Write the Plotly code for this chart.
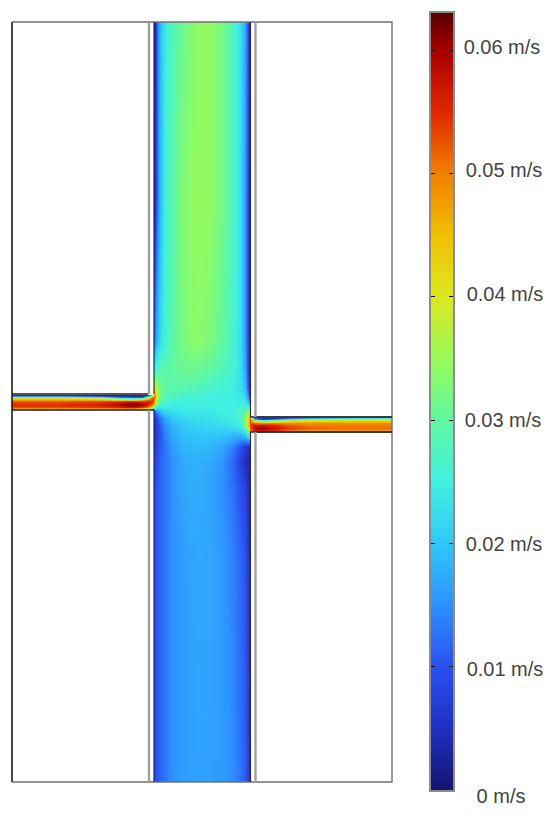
import plotly.graph_objects as go

# Velocity magnitude estimates, in mm/s.
# Geometry is expressed in the image's own coordinate system (pixels).
pipe_x = [154, 156, 158, 161, 165, 172, 182, 195, 208, 222, 232, 240, 245, 248, 250]
pipe_y = [22, 200, 340, 370, 388, 397, 404, 411, 418, 426, 434, 447, 462, 490, 560, 782]
pipe_speed = [
    [1, 8, 15, 20, 24, 28, 31, 34, 34.5, 32, 28, 23, 17, 9, 1],
    [2, 9, 15, 20, 25, 29, 33, 34.5, 34.5, 32, 28, 23, 16, 8, 1],
    [12, 17, 20, 23, 26, 29, 32, 34, 33, 30, 27, 23, 16, 8, 1],
    [26, 27, 28, 29, 29, 30, 31, 31, 30, 28, 26, 23, 17, 8, 2],
    [42, 38, 34, 31, 30, 29, 29, 28, 27, 26, 25, 23, 19, 10, 3],
    [52, 43, 36, 31, 28, 27, 26, 26, 25, 25, 25, 24, 22, 15, 6],
    [48, 36, 30, 27, 26, 25, 25, 25, 25, 25, 25, 25, 25, 22, 16],
    [10, 14, 17, 20, 22, 23, 24, 24, 24, 25, 25, 27, 29, 34, 40],
    [6, 8, 11, 14, 17, 20, 22, 23, 23, 24, 25, 27, 33, 42, 50],
    [5, 7, 9, 12, 15, 18, 20, 21, 22, 22, 23, 25, 31, 41, 52],
    [5, 7, 9, 11, 14, 17, 19, 20, 20, 20, 19, 19, 21, 26, 32],
    [7, 8, 10, 11, 13, 16, 18, 19, 18.5, 17, 14, 10, 7, 5, 3],
    [8, 9, 10, 12, 13, 15, 17, 18, 17.5, 15.5, 12, 8, 5, 4, 2],
    [9, 10, 11, 12, 13, 15, 17, 17.5, 17, 15, 13, 10, 8, 5, 2],
    [9, 10, 11, 12, 13, 15, 16, 17, 17, 16, 14, 12, 10, 7, 2],
    [8, 10, 11, 12, 13, 15, 16, 16.5, 16.5, 16, 15, 13, 11, 8, 2],
]

left_x = [12, 60, 100, 120, 132, 142, 148, 152, 154]
left_y = [395, 396, 397, 398, 399.5, 401, 403, 405, 407, 408.5, 410]
left_speed = [
    [5, 5, 4, 3, 3, 3, 8, 25, 48],
    [16, 16, 10, 6, 5, 5, 20, 40, 50],
    [30, 30, 24, 12, 10, 10, 32, 48, 52],
    [42, 42, 38, 28, 25, 28, 43, 52, 54],
    [48, 48, 47, 45, 43, 47, 52, 54, 54],
    [52, 52, 53, 54, 55, 54, 55, 55, 52],
    [54, 54, 55, 58, 61, 58, 56, 53, 45],
    [55, 55, 56, 59, 62, 59, 55, 50, 40],
    [53, 53, 54, 56, 58, 55, 50, 42, 25],
    [44, 44, 43, 44, 44, 38, 32, 22, 10],
    [32, 32, 30, 30, 28, 24, 16, 10, 5],
]

right_x = [250, 254, 262, 275, 290, 310, 340, 392]
right_y = [418, 419, 420, 421.5, 423, 425, 428, 430, 431, 432]
right_speed = [
    [50, 12, 4, 6, 12, 18, 22, 24],
    [52, 18, 8, 14, 24, 30, 34, 35],
    [52, 38, 25, 30, 38, 40, 41, 42],
    [52, 47, 42, 43, 45, 46, 46, 46],
    [53, 52, 50, 50, 49, 49, 49, 49],
    [53, 56, 57, 55, 52, 50, 50, 50],
    [52, 58, 60, 57, 54, 52, 51, 51],
    [50, 56, 58, 55, 51, 49, 49, 49],
    [44, 50, 52, 49, 45, 44, 44, 44],
    [30, 38, 42, 40, 36, 34, 33, 33],
]

scale_values = [0, 5, 10, 15, 20, 25, 30, 35, 40, 45, 50, 55, 60, 63]
scale_colors = ["#14146e", "#1f2fc0", "#2a50f0", "#2e90ff", "#30c8f8", "#40f0e0", "#60f8a0",
                "#98fa58", "#dce820", "#f0c000", "#f08000", "#e02800", "#a80000", "#580000"]
tick_values = [0, 10, 20, 30, 40, 50, 60]
tick_labels = ["0 m/s", "0.01 m/s", "0.02 m/s", "0.03 m/s", "0.04 m/s", "0.05 m/s", "0.06 m/s"]
label_x = [501, 505, 504, 503, 505, 504, 502]
label_y = [798, 671, 546, 422, 296, 172, 49]

frame_dark_x = [12, 12, None, 12, 148, None, 12, 154, None, 250, 392, None, 250, 392]
frame_dark_y = [22, 782, None, 394, 394, None, 410, 410, None, 417, 417, None, 432, 432]
frame_gray_x = [12, 392, 392, 12, None, 255, 392, None, 255, 392]
frame_gray_y = [22, 22, 782, 782, None, 417, 417, None, 432, 432]
wall_outer_x = [149, 149, None, 149, 149, None, 255.5, 255.5, None, 255.5, 255.5]
wall_outer_y = [22, 394, None, 410, 782, None, 22, 417, None, 432, 782]
wall_inner_x = [154, 154, None, 154, 154, None, 250.5, 250.5, None, 250.5, 250.5]
wall_inner_y = [22, 394, None, 410, 782, None, 22, 417, None, 432, 782]

ZMAX = 63
EPS = 0.01
colorscale = [[v / ZMAX, c] for v, c in zip(scale_values, scale_colors)]


def pad_axis(vals):
    """Plotly extends a smoothed heatmap half a cell past its outer samples; keep that cell tiny."""
    return [vals[0] - EPS] + list(vals) + [vals[-1] + EPS]


def pad_grid(rows):
    rows = [[r[0]] + list(r) + [r[-1]] for r in rows]
    return [rows[0]] + rows + [rows[-1]]


fig = go.Figure()
for xs, ys, zs in [(pipe_x, pipe_y, pipe_speed), (left_x, left_y, left_speed), (right_x, right_y, right_speed)]:
    fig.add_trace(go.Heatmap(x=pad_axis(xs), y=pad_axis(ys), z=pad_grid(zs), zmin=0, zmax=ZMAX,
                             colorscale=colorscale, zsmooth="best", showscale=False, hoverinfo="skip"))

for xs, ys, color, width in [
    (frame_gray_x, frame_gray_y, "#707070", 1.4),
    (frame_dark_x, frame_dark_y, "#1c1c1c", 1.6),
    (wall_outer_x, wall_outer_y, "#a0a0a0", 2.4),
    (wall_inner_x, wall_inner_y, "#2a2a40", 1.2),
]:
    fig.add_trace(go.Scatter(x=xs, y=ys, mode="lines", line=dict(color=color, width=width),
                             showlegend=False, hoverinfo="skip"))

# Colour bar: its own axes, y in mm/s
fig.add_trace(go.Heatmap(x=pad_axis([0, 1]), y=pad_axis(scale_values),
                         z=pad_grid([[v, v] for v in scale_values]),
                         zmin=0, zmax=ZMAX, colorscale=colorscale, zsmooth="best",
                         showscale=False, hoverinfo="skip", xaxis="x2", yaxis="y2"))
fig.add_trace(go.Scatter(x=label_x, y=label_y, text=tick_labels, mode="text",
                         textposition="middle center",
                         textfont=dict(family="Liberation Sans", size=20, color="#444444"),
                         showlegend=False, hoverinfo="skip"))

fig.update_layout(
    width=550, height=817, margin=dict(l=0, r=0, t=0, b=0),
    paper_bgcolor="white", plot_bgcolor="white", showlegend=False,
    xaxis=dict(range=[0, 550], domain=[0, 1], visible=False, fixedrange=True),
    yaxis=dict(range=[817, 0], domain=[0, 1], visible=False, fixedrange=True),
    xaxis2=dict(range=[0, 1], domain=[431 / 550, 453 / 550], anchor="y2", showticklabels=False,
                ticks="", showgrid=False, zeroline=False, showline=True, mirror=True,
                linecolor="#8c8c8c", linewidth=1.5, fixedrange=True),
    yaxis2=dict(range=[0, ZMAX], domain=[1 - 790 / 817, 1 - 13 / 817], anchor="x2",
                tickvals=tick_values, ticks="inside", ticklen=4, tickwidth=1.2, tickcolor="#111111",
                showticklabels=False, showgrid=False, zeroline=False, showline=True, mirror="ticks",
                linecolor="#8c8c8c", linewidth=1.5, fixedrange=True),
)

fig.write_html("out.html", config={"displayModeBar": False},
               post_script="document.body.style.margin='0';document.body.style.overflow='hidden';")
